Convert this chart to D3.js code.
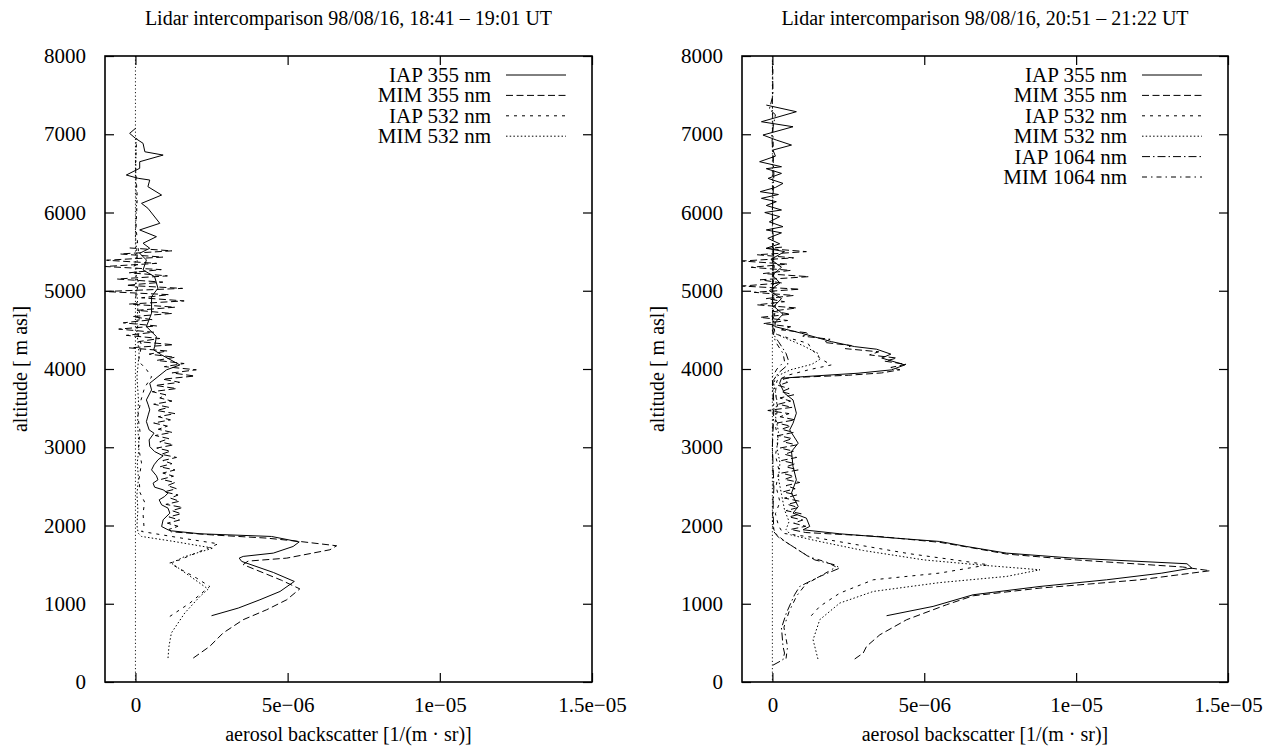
<!DOCTYPE html>
<html>
<head>
<meta charset="utf-8">
<script src="https://cdn.jsdelivr.net/npm/d3@7"></script>
<style>
  body { margin: 0; background: #fff; }
  text { font-family: "Liberation Serif", "Times New Roman", serif; fill: #000; }
</style>
</head>
<body>
<div id="chart"></div>
<script>
var svgWidth = 1269;
var svgHeight = 749;

// values are in units of 1e-6 1/(m sr); altitudes in m asl
var xTicks = [0, 5, 10, 15];
var xTickLabels = ["0", "5e\u221206", "1e\u221205", "1.5e\u221205"];
var yTicks = [0, 1000, 2000, 3000, 4000, 5000, 6000, 7000, 8000];

var titles = [
  "Lidar intercomparison 98/08/16, 18:41 \u2013 19:01 UT",
  "Lidar intercomparison 98/08/16, 20:51 \u2013 21:22 UT"
];

// ---------- left panel (18:41 - 19:01) ----------
var leftIAP355 = [
  [2.50, 847], [3.38, 945], [4.09, 1051], [4.75, 1157], [5.22, 1285], [4.53, 1400], [3.49, 1541],
  [3.41, 1583], [3.54, 1605], [4.53, 1647], [5.18, 1732], [5.38, 1790], [4.47, 1860], [2.12, 1894],
  [1.18, 1932], [1.07, 1945], [0.86, 1987], [0.91, 2073], [1.13, 2158], [1.07, 2222], [0.86, 2264],
  [0.78, 2328], [0.96, 2371], [1.07, 2414], [0.91, 2456], [0.63, 2490], [0.58, 2541], [0.74, 2584],
  [0.69, 2635], [0.53, 2711], [0.61, 2775], [0.74, 2839], [0.91, 2890], [0.63, 2945], [0.47, 3009],
  [0.45, 3094], [0.61, 3180], [0.45, 3222], [0.36, 3328], [0.42, 3413], [0.47, 3478], [0.42, 3541],
  [0.36, 3605], [0.53, 3733], [0.47, 3818], [1.02, 3989], [1.46, 4052], [0.86, 4180], [0.60, 4244],
  [0.63, 4286], [0.69, 4414], [0.36, 4542], [0.53, 4713], [0.53, 4925], [0.74, 5032], [0.63, 5180],
  [0.25, 5266], [0.36, 5393], [0.14, 5479], [0.47, 5543], [0.25, 5607], [0.69, 5691], [0.14, 5777],
  [0.80, 5862], [0.41, 6054], [0.20, 6117], [0.86, 6223], [0.41, 6330], [0.47, 6415], [0.09, 6437],
  [-0.30, 6479], [0.14, 6565], [0.14, 6649], [0.91, 6734], [0.31, 6776], [0.25, 6884], [0.00, 6948],
  [-0.19, 7011], [0.00, 7075]
];

var leftMIM355 = [
  [1.90, 306], [2.44, 455], [2.88, 626], [3.54, 796], [4.31, 923], [4.97, 1051], [5.40, 1190],
  [4.80, 1300], [3.54, 1500], [3.70, 1545], [4.97, 1583], [6.39, 1690], [6.61, 1741], [5.40, 1796],
  [4.31, 1839], [2.50, 1880], [1.18, 1920],
  [1.10, 1950], [1.40, 1990], [1.05, 2030], [1.45, 2070], [1.10, 2110], [1.50, 2150], [1.20, 2190],
  [1.55, 2230], [1.00, 2270], [1.45, 2310], [1.15, 2350], [1.40, 2390], [0.95, 2430], [1.35, 2470],
  [1.05, 2510], [1.30, 2550], [0.85, 2590], [1.25, 2630], [0.90, 2670], [1.30, 2710], [0.80, 2750],
  [1.20, 2790], [0.90, 2830], [1.35, 2870], [0.85, 2910], [1.15, 2950], [0.70, 2990], [1.25, 3030],
  [0.80, 3070], [1.10, 3110], [0.65, 3150], [1.20, 3190], [0.75, 3230], [1.05, 3270], [0.60, 3310],
  [1.15, 3350], [0.75, 3390], [1.30, 3430], [0.70, 3470], [1.10, 3510], [0.60, 3550], [1.20, 3590],
  [0.80, 3630], [1.00, 3670], [0.55, 3710], [1.35, 3750], [0.65, 3790], [1.45, 3830], [0.90, 3870],
  [1.95, 3910], [1.20, 3950], [2.00, 3990], [0.95, 4030], [1.60, 4070], [0.70, 4110], [1.30, 4150],
  [0.45, 4190], [1.05, 4230], [-0.20, 4270], [1.25, 4310], [0.10, 4350], [0.80, 4390], [-0.30, 4430],
  [0.60, 4470], [-0.55, 4510], [0.70, 4550], [-0.40, 4590], [0.55, 4630], [-0.10, 4670], [1.20, 4710],
  [0.05, 4750], [1.30, 4790], [-0.20, 4830], [1.60, 4870], [0.20, 4910], [1.10, 4950], [-1.00, 4990],
  [1.55, 5030], [-0.30, 5070], [0.90, 5110], [-0.60, 5150], [1.05, 5190], [-0.20, 5230], [0.85, 5270],
  [-1.00, 5310], [0.70, 5350], [-0.95, 5390], [0.90, 5430], [-0.50, 5470], [1.20, 5510], [-0.30, 5550]
];

var leftIAP532 = [
  [1.13, 838], [1.79, 1009], [2.44, 1221], [2.00, 1330], [1.30, 1480], [1.13, 1520], [1.46, 1562],
  [2.72, 1766], [1.50, 1840], [0.20, 1924], [0.28, 1990], [0.25, 2150], [0.30, 2300], [0.15, 2420],
  [0.12, 2600], [0.20, 2800], [0.10, 3000], [0.15, 3200], [0.08, 3400], [0.18, 3600], [0.30, 3760],
  [0.53, 3900], [0.35, 4000], [0.10, 4100], [0.20, 4300], [0.05, 4500], [0.15, 4700], [0.00, 4900],
  [0.10, 5100], [-0.05, 5300], [0.10, 5500], [0.02, 5800], [0.06, 6200], [0.00, 6600], [0.04, 6950]
];

var leftMIM532 = [
  [1.07, 306], [1.10, 450], [1.18, 626], [1.62, 881], [2.12, 1094], [2.39, 1187], [1.80, 1350],
  [1.18, 1520], [1.60, 1600], [2.55, 1711], [1.20, 1800], [0.20, 1860], [0.09, 1903], [0.05, 2000],
  [0.08, 2200], [0.05, 2400], [0.10, 2600], [0.06, 2800], [0.12, 3000], [0.07, 3300], [0.10, 3600],
  [0.05, 3900], [0.12, 4200], [0.04, 4500], [0.08, 4800], [0.02, 5100], [0.06, 5400], [0.00, 5700],
  [0.03, 6100], [0.01, 6500], [0.02, 6900]
];

// ---------- right panel (20:51 - 21:22) ----------
var rightIAP355 = [
  [3.76, 847], [5.29, 966], [6.61, 1115], [8.81, 1221], [11.00, 1306], [12.80, 1390], [13.81, 1456],
  [13.65, 1511], [9.91, 1583], [7.71, 1647], [6.39, 1732], [5.51, 1796], [4.00, 1840], [2.22, 1894],
  [1.01, 1945], [1.23, 1988], [1.12, 2094], [0.68, 2158], [0.85, 2243], [0.63, 2414], [0.79, 2584],
  [0.68, 2754], [0.63, 2946], [0.85, 3052], [0.57, 3222], [0.68, 3307], [0.79, 3435], [0.68, 3605],
  [0.40, 3690], [0.24, 3818], [0.30, 3882], [1.06, 3903], [2.82, 3946], [3.92, 3989], [4.36, 4052],
  [3.60, 4140], [3.90, 4190], [3.43, 4253], [2.71, 4286], [1.94, 4350], [0.96, 4457], [0.08, 4542],
  [0.10, 4600], [0.35, 4700], [0.05, 4800], [0.30, 4900], [-0.10, 5000], [0.25, 5100], [0.00, 5200],
  [0.30, 5300], [-0.05, 5400], [0.40, 5500], [-0.20, 5543], [0.24, 5600], [-0.15, 5670], [0.30, 5740],
  [-0.20, 5777], [0.35, 5819], [-0.10, 5880], [0.24, 5947], [-0.25, 6000], [0.30, 6032], [-0.20, 6090],
  [0.13, 6138], [-0.36, 6181], [0.20, 6230], [-0.40, 6266], [0.10, 6320], [0.35, 6372], [-0.14, 6436],
  [0.30, 6500], [-0.20, 6560], [0.30, 6585], [-0.42, 6649], [0.10, 6720], [0.02, 6798], [0.63, 6862],
  [0.13, 6926], [-0.31, 6990], [0.68, 7096], [-0.36, 7160], [0.79, 7288], [-0.20, 7373]
];

var rightMIM355 = [
  [2.71, 294], [2.99, 370], [3.10, 455], [3.54, 604], [4.42, 796], [5.73, 987], [6.61, 1102],
  [8.81, 1200], [12.10, 1306], [14.41, 1422], [13.50, 1470], [10.00, 1560], [7.71, 1635], [6.50, 1720],
  [5.51, 1785], [3.50, 1860], [1.10, 1910],
  [0.60, 1950], [1.10, 1990], [0.70, 2030], [1.00, 2070], [0.55, 2110], [0.95, 2150], [0.45, 2190],
  [0.85, 2230], [0.50, 2270], [0.90, 2310], [0.40, 2350], [0.80, 2390], [0.35, 2430], [0.75, 2470],
  [0.45, 2510], [0.90, 2550], [0.40, 2590], [0.70, 2630], [0.30, 2670], [0.85, 2710], [0.45, 2750],
  [0.75, 2790], [0.30, 2830], [0.80, 2870], [0.40, 2910], [0.70, 2950], [0.25, 2990], [0.80, 3030],
  [0.35, 3070], [0.65, 3110], [0.20, 3150], [0.70, 3190], [0.30, 3230], [0.60, 3270], [0.15, 3310],
  [0.75, 3350], [0.25, 3390], [0.55, 3430], [-0.15, 3470], [0.65, 3510], [0.20, 3550], [0.60, 3590],
  [0.25, 3630], [0.70, 3670], [0.30, 3710], [0.55, 3750], [0.20, 3790], [0.50, 3830], [0.35, 3870],
  [0.60, 3890], [2.50, 3920], [3.60, 3950], [4.20, 3990], [3.90, 4020], [4.40, 4060], [3.70, 4100],
  [4.10, 4140], [3.20, 4180], [3.50, 4220], [2.40, 4260], [2.60, 4300], [1.70, 4340], [1.90, 4380],
  [1.00, 4420], [1.20, 4460], [0.30, 4500], [0.60, 4540],
  [-0.30, 4580], [0.50, 4620], [-0.40, 4660], [0.60, 4700], [0.00, 4740], [0.80, 4780], [-0.50, 4820],
  [0.40, 4860], [-0.20, 4900], [0.70, 4940], [-0.60, 4980], [0.90, 5020], [-0.99, 5060], [0.30, 5100],
  [-0.40, 5140], [1.20, 5180], [-0.30, 5220], [0.60, 5260], [-0.70, 5300], [0.50, 5340], [-0.99, 5380],
  [0.70, 5420], [-0.50, 5460], [1.12, 5500], [-0.20, 5540], [0.40, 5560]
];

var rightIAP532 = [
  [1.28, 847], [1.56, 966], [2.22, 1136], [3.32, 1306], [5.51, 1392], [7.11, 1498], [6.00, 1560],
  [4.50, 1640], [3.00, 1740], [1.50, 1840], [0.35, 1900], [0.20, 2000], [0.10, 2150], [0.25, 2300],
  [0.12, 2500], [0.22, 2700], [0.10, 2900], [0.20, 3100], [0.08, 3300], [0.18, 3500], [0.10, 3700],
  [0.15, 3850], [0.50, 3920], [1.20, 3990], [1.94, 4052], [1.56, 4137], [1.30, 4250], [1.17, 4329],
  [0.50, 4400], [0.08, 4450], [0.05, 4600], [0.10, 4800], [0.00, 5000], [0.06, 5300], [0.02, 5600]
];

var rightMIM532 = [
  [1.50, 294], [1.45, 370], [1.34, 540], [1.56, 796], [2.22, 1009], [3.32, 1157], [5.50, 1270],
  [7.71, 1349], [8.81, 1434], [7.00, 1490], [5.00, 1560], [3.00, 1680], [1.50, 1800], [0.60, 1880],
  [0.45, 1950], [0.55, 2050], [0.40, 2200], [0.30, 2400], [0.20, 2600], [0.25, 2800], [0.15, 3000],
  [0.20, 3200], [0.10, 3400], [0.15, 3600], [0.05, 3800], [0.10, 3900], [0.60, 3990], [1.30, 4060],
  [1.55, 4120], [1.50, 4200], [1.00, 4300], [0.40, 4400], [0.05, 4460], [0.03, 4700], [0.05, 5000],
  [0.01, 5300], [0.03, 5600]
];

var rightIAP1064 = [
  [0.02, 215], [0.35, 285], [0.40, 370], [0.35, 455], [0.30, 690], [0.46, 881], [0.73, 1115],
  [0.90, 1221], [1.56, 1349], [2.22, 1456], [2.05, 1498], [1.40, 1560], [1.00, 1650], [0.60, 1750],
  [0.20, 1850], [0.05, 1920], [0.02, 2200], [0.05, 2500], [0.00, 3000], [0.05, 3500], [0.02, 3850],
  [0.20, 3950], [0.50, 4050], [0.52, 4120], [0.45, 4200], [0.20, 4350], [0.02, 4450], [0.00, 5000],
  [0.04, 5500], [0.00, 6000], [0.05, 6500], [-0.02, 7000], [0.10, 7250], [-0.10, 7320], [0.02, 7500],
  [0.00, 7950]
];

var rightMIM1064 = [
  [0.45, 300], [0.50, 450], [0.38, 700], [0.55, 900], [0.80, 1100], [1.10, 1250], [1.70, 1380],
  [2.10, 1470], [1.80, 1530], [1.20, 1600], [0.80, 1700], [0.40, 1800], [0.10, 1900], [0.00, 2000],
  [0.03, 2500], [0.00, 3000], [0.03, 3500], [0.00, 3900], [0.15, 4000], [0.40, 4100], [0.35, 4200],
  [0.10, 4350], [0.00, 4500], [0.02, 5200], [0.00, 6000], [0.03, 6800], [0.00, 7400], [0.02, 7900]
];

// line styles as in the gnuplot postscript terminal
var styles = {
  iap355: null,
  mim355: "7,3.5",
  iap532: "3,5",
  mim532: "1.5,2.2",
  iap1064: "8,3,1.5,3",
  mim1064: "5,4,1.5,4"
};

var panels = [
  {
    left: 105, right: 592, title: titles[0], ylabelX: 20,
    series: [
      { name: "IAP 355 nm", data: leftIAP355, dash: styles.iap355 },
      { name: "MIM 355 nm", data: leftMIM355, dash: styles.mim355 },
      { name: "IAP 532 nm", data: leftIAP532, dash: styles.iap532 },
      { name: "MIM 532 nm", data: leftMIM532, dash: styles.mim532 }
    ]
  },
  {
    left: 742, right: 1228, title: titles[1], ylabelX: 657,
    series: [
      { name: "IAP 355 nm", data: rightIAP355, dash: styles.iap355 },
      { name: "MIM 355 nm", data: rightMIM355, dash: styles.mim355 },
      { name: "IAP 532 nm", data: rightIAP532, dash: styles.iap532 },
      { name: "MIM 532 nm", data: rightMIM532, dash: styles.mim532 },
      { name: "IAP 1064 nm", data: rightIAP1064, dash: styles.iap1064 },
      { name: "MIM 1064 nm", data: rightMIM1064, dash: styles.mim1064 }
    ]
  }
];

var plotTop = 56;
var plotBottom = 682;
var fontSize = 21;

var svg = d3.select("#chart")
  .append("svg")
  .attr("width", svgWidth)
  .attr("height", svgHeight);

panels.forEach(function(p, i) {
  var xScale = d3.scaleLinear().domain([-1, 15]).range([p.left, p.right]);
  var yScale = d3.scaleLinear().domain([0, 8000]).range([plotBottom, plotTop]);
  var g = svg.append("g");

  // clip to plot area
  var clipId = "clip" + i;
  svg.append("clipPath").attr("id", clipId)
    .append("rect")
    .attr("x", p.left).attr("y", plotTop)
    .attr("width", p.right - p.left).attr("height", plotBottom - plotTop);

  // title
  g.append("text")
    .attr("x", (p.left + p.right) / 2)
    .attr("y", 25)
    .attr("text-anchor", "middle")
    .style("font-size", "20px")
    .text(p.title);

  // axes with inward ticks on all four sides
  var tickLen = 9;
  var bottomAxis = d3.axisBottom(xScale).tickValues(xTicks)
    .tickSize(-tickLen).tickPadding(tickLen + 6)
    .tickFormat(function(d, j) { return xTickLabels[j]; });
  var topAxis = d3.axisTop(xScale).tickValues(xTicks).tickSize(-tickLen).tickFormat("");
  var leftAxis = d3.axisLeft(yScale).tickValues(yTicks)
    .tickSize(-tickLen).tickPadding(tickLen + 10).tickFormat(d3.format("d"));
  var rightAxis = d3.axisRight(yScale).tickValues(yTicks).tickSize(-tickLen).tickFormat("");

  [
    [bottomAxis, `translate(0, ${plotBottom})`, true],
    [topAxis, `translate(0, ${plotTop})`, false],
    [leftAxis, `translate(${p.left}, 0)`, true],
    [rightAxis, `translate(${p.right}, 0)`, false]
  ].forEach(function(a) {
    var ax = g.append("g").attr("transform", a[1]).call(a[0]);
    ax.select(".domain").remove();
    ax.selectAll("line").attr("stroke", "#000").attr("stroke-width", 1.2);
    if (a[2]) {
      ax.selectAll("text")
        .style("font-size", fontSize + "px")
        .style("font-family", '"Liberation Serif", serif');
    } else {
      // mirrored ticks carry no labels
      ax.selectAll("text").remove();
    }
  });

  // zero axis
  g.append("line")
    .attr("x1", xScale(0)).attr("x2", xScale(0))
    .attr("y1", plotTop).attr("y2", plotBottom)
    .attr("stroke", "#000").attr("stroke-width", 0.9)
    .attr("stroke-dasharray", "1.2,2.4");

  // curves
  var line = d3.line()
    .x(function(d) { return xScale(d[0]); })
    .y(function(d) { return yScale(d[1]); });

  var plot = g.append("g").attr("clip-path", `url(#${clipId})`);
  p.series.forEach(function(s) {
    plot.append("path")
      .datum(s.data)
      .attr("d", line)
      .attr("fill", "none")
      .attr("stroke", "#000")
      .attr("stroke-width", 1)
      .attr("stroke-dasharray", s.dash);
  });

  // frame
  g.append("rect")
    .attr("x", p.left).attr("y", plotTop)
    .attr("width", p.right - p.left).attr("height", plotBottom - plotTop)
    .attr("fill", "none").attr("stroke", "#000").attr("stroke-width", 1.6);

  // key
  var keyX = p.right - 101;
  p.series.forEach(function(s, j) {
    var ky = 75 + j * 20.4;
    g.append("text")
      .attr("x", keyX).attr("y", ky + 7)
      .attr("text-anchor", "end")
      .style("font-size", fontSize + "px")
      .text(s.name);
    g.append("line")
      .attr("x1", keyX + 15).attr("x2", keyX + 75)
      .attr("y1", ky).attr("y2", ky)
      .attr("stroke", "#000").attr("stroke-width", 1)
      .attr("stroke-dasharray", s.dash);
  });

  // axis labels
  g.append("text")
    .attr("x", (p.left + p.right) / 2)
    .attr("y", 741)
    .attr("text-anchor", "middle")
    .style("font-size", "20px")
    .text("aerosol backscatter [1/(m \u00b7 sr)]");

  g.append("text")
    .attr("transform", `translate(${p.ylabelX}, ${(plotTop + plotBottom) / 2}) rotate(-90)`)
    .attr("text-anchor", "middle")
    .attr("dy", "0.35em")
    .style("font-size", "20px")
    .text("altitude [ m asl]");
});
</script>
</body>
</html>
